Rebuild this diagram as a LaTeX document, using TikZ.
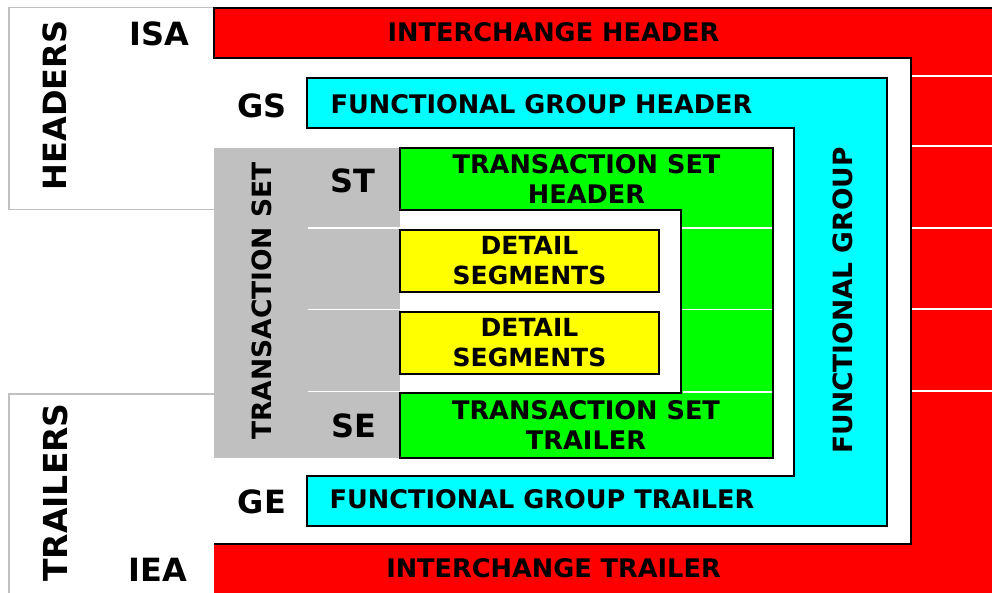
\documentclass[tikz,border=0pt]{standalone}
\usepackage{fontspec}
\setmainfont{DejaVu Sans}
\definecolor{xred}{HTML}{FF0000}
\definecolor{xcyan}{HTML}{00FFFF}
\definecolor{xgreen}{HTML}{00FF00}
\definecolor{xyellow}{HTML}{FFFF00}
\definecolor{xgrey}{HTML}{C0C0C0}
\tikzset{
  bd/.style={draw=black, line width=2.2pt, line join=miter},
  outl/.style={draw=xgrey, line width=1.6pt},
  wl/.style={draw=white, line width=1.8pt},
  lbl/.style={font=\fontsize{25.6}{30}\selectfont\bfseries, inner sep=0pt, align=center},
  biglbl/.style={font=\fontsize{32}{36}\selectfont\bfseries, inner sep=0pt},
  rotlbl/.style={font=\fontsize{26.5}{30}\selectfont\bfseries, inner sep=0pt, rotate=90},
  ybox/.style={bd, fill=xyellow, minimum width=259pt, minimum height=62pt, inner sep=0pt, align=center,
    font=\fontsize{25}{30}\selectfont\bfseries}
}
\begin{document}
\begin{tikzpicture}[x=1pt,y=-1pt]
\useasboundingbox (0,0) rectangle (992,592);
\fill[white] (0,0) rectangle (992,592);
% side outlines
\draw[outl] (214,7.5) -- (9,7.5) -- (9,209.5) -- (214,209.5);
\draw[outl] (214,394) -- (9,394) -- (9,594);
% interchange (red)
\fill[xred] (214,8) -- (994,8) -- (994,594) -- (214,594) -- (214,544) -- (911,544) -- (911,58) -- (214,58) -- cycle;
\draw[bd] (214,544) -- (911,544) -- (911,58) -- (214,58) -- (214,8) -- (994,8);
\foreach \yy in {76,146,228,309,391} \draw[wl] (912,\yy) -- (994,\yy);
% functional group (cyan)
\filldraw[bd, fill=xcyan] (307,78) -- (887,78) -- (887,526) -- (307,526) -- (307,476) -- (794,476) -- (794,128) -- (307,128) -- cycle;
% transaction set (grey)
\fill[xgrey] (214,148) rectangle (400,458);
\foreach \yy in {228,309.5,391.5} \draw[wl] (308,\yy) -- (400,\yy);
% transaction set header/trailer (green)
\filldraw[bd, fill=xgreen] (400,148) -- (773,148) -- (773,458) -- (400,458) -- (400,393) -- (681,393) -- (681,210) -- (400,210) -- cycle;
\foreach \yy in {228,309.5} \draw[wl] (682,\yy) -- (772,\yy);
\draw[wl] (682.5,392) -- (772,392);
% detail segments
\node[ybox] (d1) at (529.5,261) {DETAIL\\SEGMENTS};
\node[ybox] (d2) at (529.5,343) {DETAIL\\SEGMENTS};
% labels
\node[lbl] (ih) at (553.5,32) {INTERCHANGE HEADER};
\node[lbl] (it) at (553.5,568.5) {INTERCHANGE TRAILER};
\node[lbl] (fgh) at (541.5,104) {FUNCTIONAL GROUP HEADER};
\node[lbl] (fgt) at (542,499.5) {FUNCTIONAL GROUP TRAILER};
\node[lbl] (tsh) at (586.5,179) {TRANSACTION SET\\HEADER};
\node[lbl] (tst) at (586,425) {TRANSACTION SET\\TRAILER};
\node[biglbl] (isa) at (159.5,34) {ISA};
\node[biglbl] (gs) at (262,106) {GS};
\node[biglbl] (st) at (352.5,180.5) {ST};
\node[biglbl] (se) at (354,426) {SE};
\node[biglbl] (ge) at (262,502) {GE};
\node[biglbl] (iea) at (158,570) {IEA};
\node[rotlbl, font=\fontsize{32}{36}\selectfont\bfseries] (hdr) at (55,105.5) {HEADERS};
\node[rotlbl, font=\fontsize{33}{36}\selectfont\bfseries] (trl) at (55,492.5) {TRAILERS};
\node[rotlbl] (tsl) at (262,301) {TRANSACTION SET};
\node[rotlbl] (fgl) at (843,300.5) {FUNCTIONAL GROUP};
\end{tikzpicture}
\end{document}
